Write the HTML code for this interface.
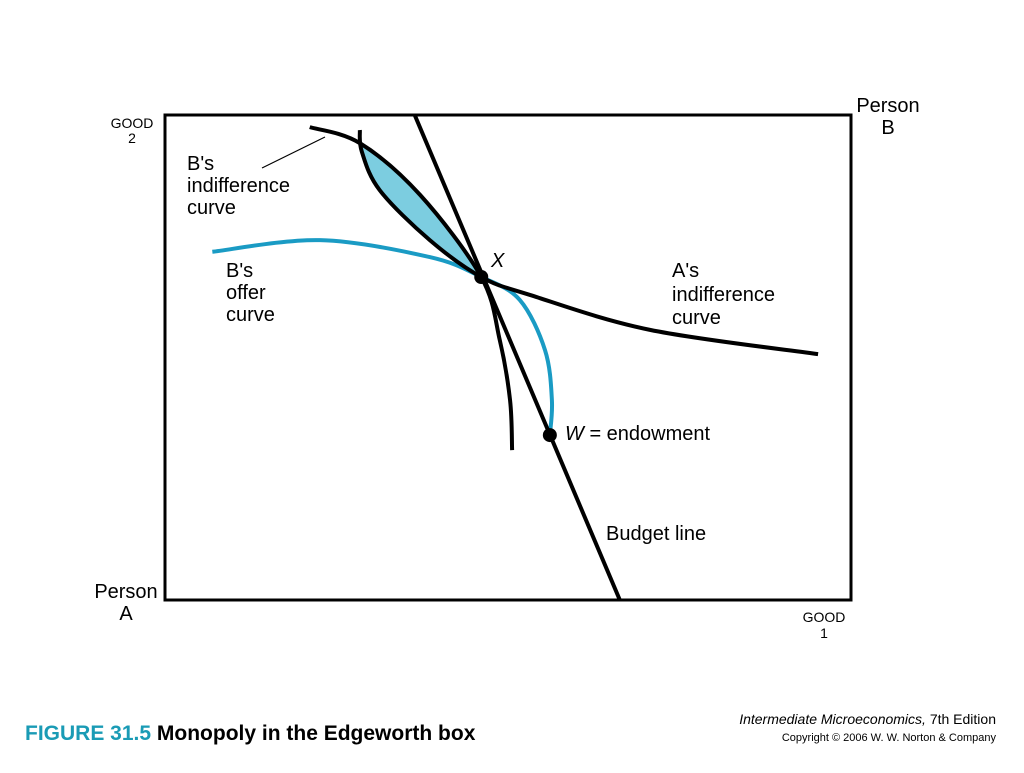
<!DOCTYPE html>
<html><head><meta charset="utf-8"><style>
body{margin:0;background:#fff;width:1024px;height:768px;overflow:hidden;font-family:"Liberation Sans",sans-serif}
svg text{font-family:"Liberation Sans",sans-serif}
</style></head><body>
<svg id="chart" width="1024" height="768" viewBox="0 0 1024 768">
<g id="marks"></g>
<rect x="165" y="115" width="686" height="485" fill="none" stroke="#000" stroke-width="3"/>
<text x="132" y="128" font-size="14" text-anchor="middle">GOOD</text>
<text x="132" y="143" font-size="14" text-anchor="middle">2</text>
<text x="824" y="622" font-size="14" text-anchor="middle">GOOD</text>
<text x="824" y="638" font-size="14" text-anchor="middle">1</text>
<text x="888" y="112" font-size="20" text-anchor="middle">Person</text>
<text x="888" y="134" font-size="20" text-anchor="middle">B</text>
<text x="126" y="598" font-size="20" text-anchor="middle">Person</text>
<text x="126" y="620" font-size="20" text-anchor="middle">A</text>
<g font-size="20">
<text x="187" y="170">B's</text><text x="187" y="192">indifference</text><text x="187" y="214">curve</text></g>
<line x1="262" y1="168" x2="325" y2="137" stroke="#000" stroke-width="1.2"/>
<g font-size="20">
<text x="226" y="277">B's</text><text x="226" y="299">offer</text><text x="226" y="321">curve</text></g>
<g font-size="20">
<text x="672" y="277">A's</text><text x="672" y="301">indifference</text><text x="672" y="324">curve</text></g>
<text x="491" y="267" font-size="20" font-style="italic">X</text>
<text x="565" y="440" font-size="20"><tspan font-style="italic">W</tspan> = endowment</text>
<text x="606" y="540" font-size="20">Budget line</text>
<text x="25" y="740" font-size="21" font-weight="bold" fill="#1a9bb5">FIGURE 31.5 <tspan fill="#000">Monopoly in the Edgeworth box</tspan></text>
<text x="996" y="724" font-size="14" text-anchor="end"><tspan font-style="italic">Intermediate Microeconomics,</tspan> 7th Edition</text>
<text x="996" y="741" font-size="11" text-anchor="end">Copyright © 2006 W. W. Norton &amp; Company</text>
</svg>
<script>
const bIcX=[21.1,28.4,37.2,46.1,48.8,50.3,50.6];
const bIcY=[97.5,94.2,83.5,66.6,53.6,41.2,30.9];
const aIcX=[28.4,28.7,31.3,38.6,46.1,53.2,70.7,95.2];
const aIcY=[96.9,92.4,84.5,74.2,66.6,62.9,55.7,50.7];
const offerX=[6.9,22.6,38.6,46.1,51.7,55.4,56.4,56.1];
const offerY=[71.8,74.2,70.7,66.6,61.9,51.5,41.2,34.0];
const budgetX=[36.4,66.3];
const budgetY=[100,0];
const pointX=[46.1,56.1];
const pointY=[66.6,34.0];
const sx=v=>165+v*6.86, sy=v=>600-v*4.85;
function pts(xs,ys){return xs.map((x,i)=>[sx(x),sy(ys[i])]);}
function smooth(p){let d=`M${p[0][0]},${p[0][1]}`;for(let i=0;i<p.length-1;i++){const p0=p[i-1]||p[i],p1=p[i],p2=p[i+1],p3=p[i+2]||p2;d+=` C${p1[0]+(p2[0]-p0[0])/6},${p1[1]+(p2[1]-p0[1])/6} ${p2[0]-(p3[0]-p1[0])/6},${p2[1]-(p3[1]-p1[1])/6} ${p2[0]},${p2[1]}`;}return d;}
const g=document.getElementById('marks');const NS='http://www.w3.org/2000/svg';
function path(d,stroke,fill,w,name){const e=document.createElementNS(NS,'path');e.setAttribute('d',d);e.setAttribute('stroke',stroke);e.setAttribute('fill',fill);e.setAttribute('stroke-width',w);e.setAttribute('stroke-linecap','butt');


g.appendChild(e);}
// lens: A IC from index1 to X, B IC back from X to index1
const aSeg=pts(aIcX.slice(1,5),aIcY.slice(1,5));
const bSeg=pts(bIcX.slice(1,4),bIcY.slice(1,4)).reverse();
path(smooth(aSeg)+' '+smooth(bSeg).replace('M','L')+' Z','none','#7ccde0',0,'mutual-gain-lens');
path(smooth(pts(offerX,offerY)),'#1a9bc4','none',4,'b-offer-curve');
path(smooth(pts(aIcX,aIcY)),'#000','none',4,'a-indifference-curve');
path(smooth(pts(bIcX,bIcY)),'#000','none',4,'b-indifference-curve');
const bp=pts(budgetX,budgetY);
path(`M${bp[0][0]},${bp[0][1]} L${bp[1][0]},${bp[1][1]}`,'#000','none',4,'budget-line');
const names=['point-x','point-w-endowment'];
pointX.forEach((x,i)=>{const c=document.createElementNS(NS,'circle');c.setAttribute('cx',sx(x));c.setAttribute('cy',sy(pointY[i]));c.setAttribute('r',7);


g.appendChild(c);});
</script>
</body></html>
